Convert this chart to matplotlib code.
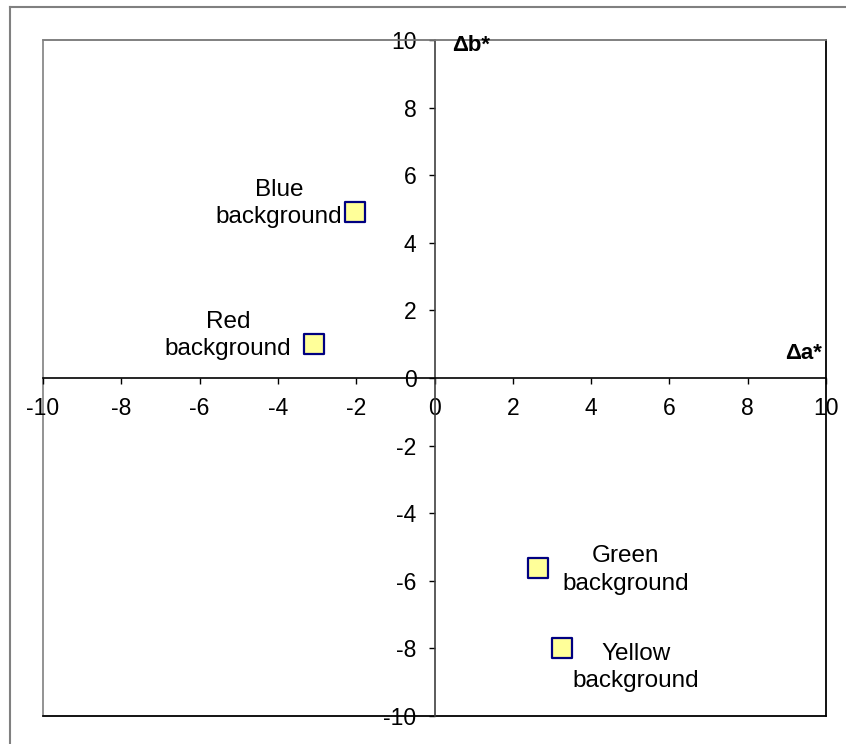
import matplotlib
matplotlib.use('Agg')
import matplotlib.pyplot as plt
from matplotlib.lines import Line2D
from matplotlib.patches import Rectangle

plt.rcParams['font.family'] = ['Liberation Sans', 'DejaVu Sans']
plt.rcParams['axes.unicode_minus'] = False

# data
names = ['Blue\nbackground', 'Red\nbackground', 'Green\nbackground', 'Yellow\nbackground']
da = [-2.03, -3.08, 2.64, 3.26]
db = [4.92, 1.02, -5.62, -8.0]
ticks = [-10, -8, -6, -4, -2, 0, 2, 4, 6, 8, 10]

# label offsets from the marker, in pixels
label_off = [(-76, 8.5), (-86, 8), (88, -2), (74, -19.5)]

fig = plt.figure(figsize=(8.46, 7.44), dpi=100)
ax = fig.add_axes([43 / 846, 1 - 716 / 744, (826 - 43) / 846, (716 - 40) / 744])

# chart area border (runs off the right and bottom of the image)
fig.add_artist(Line2D([10 / 846, 10 / 846], [0, 1 - 7 / 744], color='#808080', lw=1.5))
fig.add_artist(Line2D([10 / 846, 1], [1 - 7 / 744, 1 - 7 / 744], color='#808080', lw=1.5))

ax.scatter(da, db, marker='s', s=14.5 ** 2, facecolor='#FFFF99', edgecolor='#000080',
           linewidth=1.6, zorder=5, clip_on=False)

for n, x, y, off in zip(names, da, db, label_off):
    ax.annotate(n, (x, y), xytext=(off[0] * 0.72, off[1] * 0.72), textcoords='offset points',
                ha='center', va='center', multialignment='center', fontsize=17.5,
                linespacing=1.3)

ax.set_xlim(-10, 10)
ax.set_ylim(-10, 10)
ax.set_xticks(ticks)
ax.set_yticks(ticks)

ax.spines['left'].set_position('zero')
ax.spines['bottom'].set_position('zero')
ax.spines['left'].set_color('#404040')
ax.spines['bottom'].set_color('black')
ax.spines['top'].set_color('#808080')
ax.spines['right'].set_color('black')
for s in ax.spines.values():
    s.set_linewidth(1.2)

# plot area border on left and bottom
ax.add_patch(Rectangle((0, 0), 1, 1, transform=ax.transAxes, fill=False,
                       edgecolor='#808080', lw=1.2, clip_on=False, zorder=0))
ax.plot([0, 1], [0, 0], transform=ax.transAxes, color='black', lw=1.2, clip_on=False)

ax.tick_params(axis='x', direction='out', length=4, width=1, pad=10, labelsize=16.5)
ax.tick_params(axis='y', direction='out', length=4, width=1, pad=9, labelsize=16.5)

ax.text(0.45, 9.85, '\u0394b*', fontsize=16, fontweight='bold', ha='left', va='center')
ax.text(9.9, 0.72, '\u0394a*', fontsize=16, fontweight='bold', ha='right', va='center')

fig.savefig('out.png', dpi=100)
